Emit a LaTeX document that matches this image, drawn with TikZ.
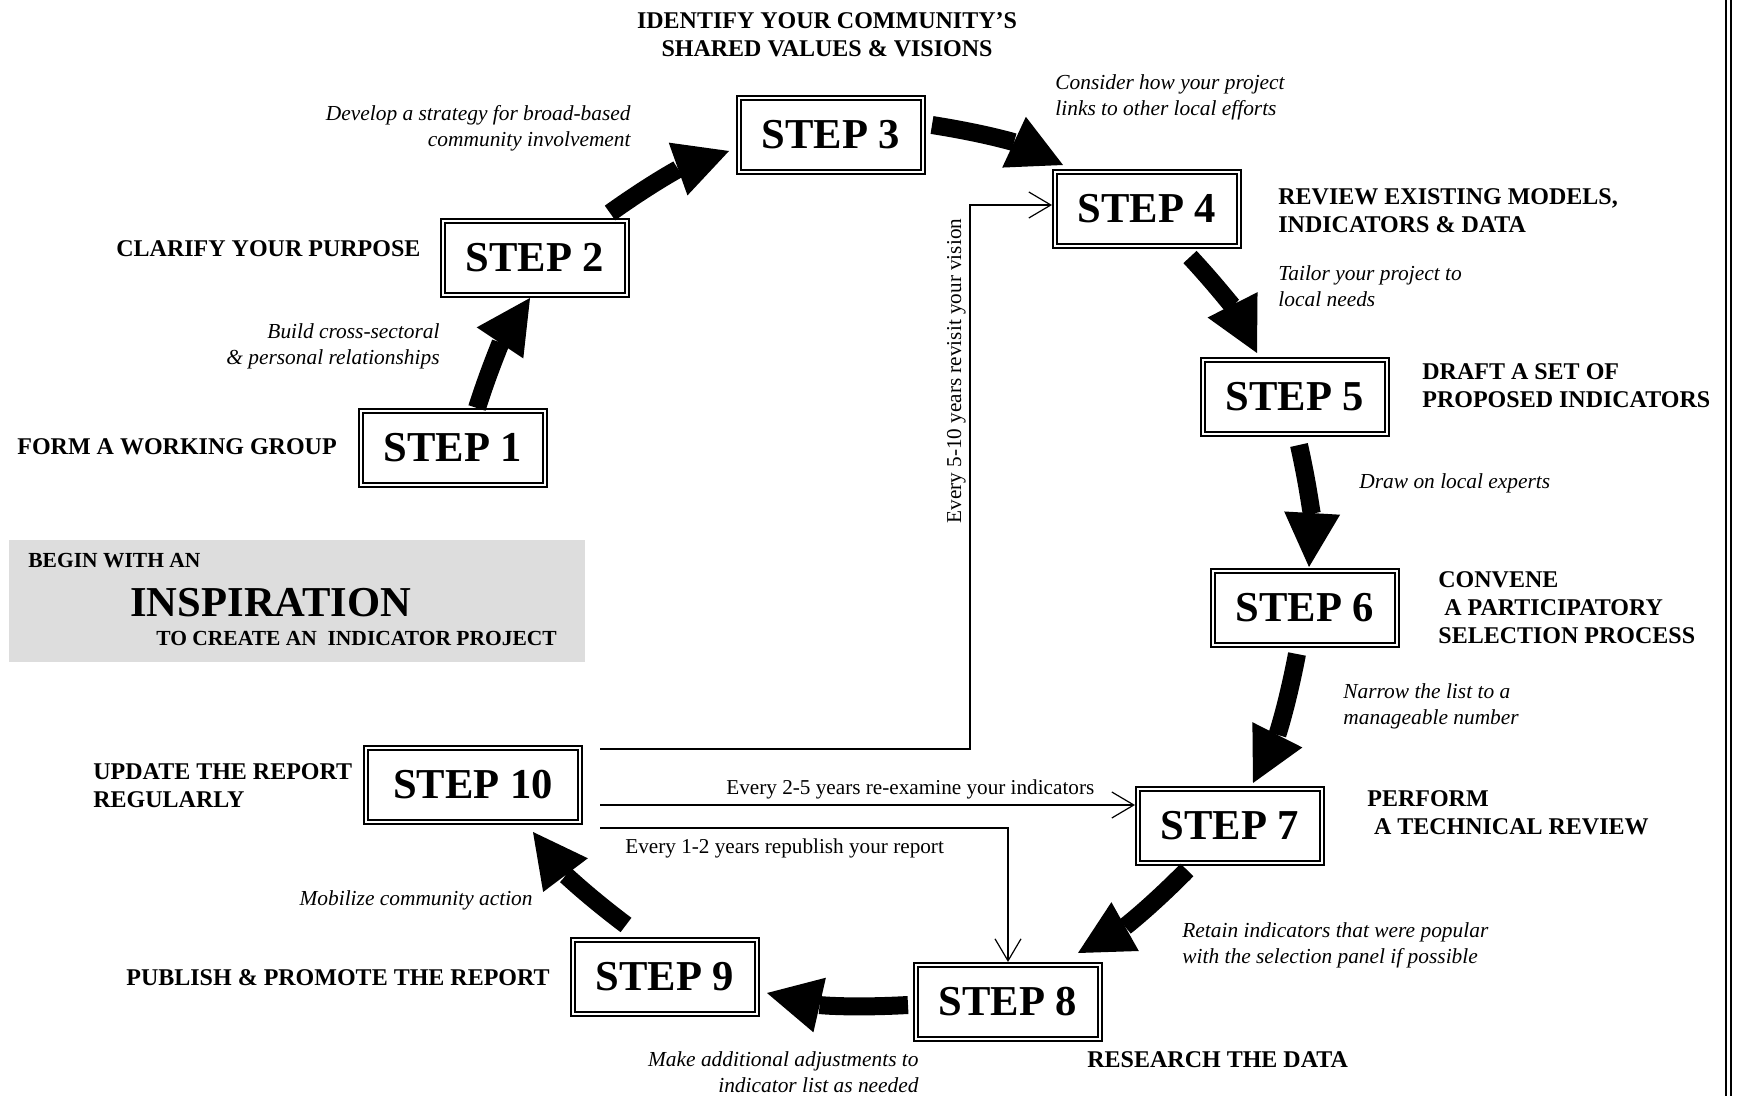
\documentclass[tikz,border=0pt]{standalone}
\usepackage{fontspec}
\setmainfont{Liberation Serif}
\usetikzlibrary{arrows.meta,calc}

% strut that fixes the top of a multi-line label one em above its first baseline
\newcommand\firstline{\rule{0pt}{1em}}

\definecolor{inspgray}{RGB}{221,221,221}

\tikzset{
  stepbox/.style={draw, line width=1pt, double, double distance=1pt,
    minimum width=92pt, minimum height=37pt, inner sep=0pt, outer sep=1.5pt,
    font=\bfseries\fontsize{21.3}{24}\selectfont},
  headline/.style={inner sep=0pt, font=\bfseries\fontsize{12}{14}\selectfont},
  hint/.style={inner sep=0pt, font=\itshape\fontsize{10.7}{12.85}\selectfont},
  cyclenote/.style={inner sep=0pt, font=\fontsize{10.6}{12.5}\selectfont},
  bigarrow/.style={line width=9pt,
    -{Triangle[length=27pt,width=28pt,line width=0pt]}},
  revisit/.style={line width=0.6pt,
    -{Straight Barb[length=11pt,width=13pt]}},
}

\begin{document}
\begin{tikzpicture}[x=0.5pt,y=-0.5pt]
\useasboundingbox (0,0) rectangle (1737,1096);

% double rule along the right edge
\draw[line width=1pt] (1726.3,0) -- (1726.3,1096);
\draw[line width=1pt] (1730.6,0) -- (1730.6,1096);

% starting point
\fill[inspgray] (9,540) rectangle (585,662);
\node[headline, font=\bfseries\fontsize{10.75}{12}\selectfont, anchor=base west] (begin) at (28,568) {BEGIN WITH AN};
\node[inner sep=0pt, font=\bfseries\fontsize{21.3}{24}\selectfont, anchor=base west] (insp) at (130,617) {INSPIRATION};
\node[headline, font=\bfseries\fontsize{10.75}{12}\selectfont, anchor=base west] (create) at (156,646) {TO CREATE AN\ \ INDICATOR PROJECT};

% the ten steps
\node[stepbox] (s1) at (453,448) {STEP 1};
\node[stepbox] (s2) at (535,258) {STEP 2};
\node[stepbox] (s3) at (831,135) {STEP 3};
\node[stepbox] (s4) at (1147,209) {STEP 4};
\node[stepbox] (s5) at (1295,397) {STEP 5};
\node[stepbox] (s6) at (1305,608) {STEP 6};
\node[stepbox] (s7) at (1230,826) {STEP 7};
\node[stepbox] (s8) at (1008,1002) {STEP 8};
\node[stepbox] (s9) at (665,977) {STEP 9};
\node[stepbox, minimum width=107pt] (s10) at (473,785) {STEP 10};

% step titles
\node[headline, anchor=north, align=center] (t3) at (827,4)
  {\firstline IDENTIFY YOUR COMMUNITY’S\\SHARED VALUES \& VISIONS};
\node[headline, anchor=base west] (t2) at (116,257) {CLARIFY YOUR PURPOSE};
\node[headline, anchor=base west] (t1) at (17,455) {FORM A WORKING GROUP};
\node[headline, anchor=north west, align=left] (t4) at (1278,180)
  {\firstline REVIEW EXISTING MODELS,\\INDICATORS \& DATA};
\node[headline, anchor=north west, align=left] (t5) at (1422,355)
  {\firstline DRAFT A SET OF\\PROPOSED INDICATORS};
\node[headline, anchor=north west, align=left] (t6) at (1438,563)
  {\firstline CONVENE\\\hspace*{3pt}A PARTICIPATORY\\SELECTION PROCESS};
\node[headline, anchor=north west, align=left] (t7) at (1367,782)
  {\firstline PERFORM\\\hspace*{3.3pt}A TECHNICAL REVIEW};
\node[headline, anchor=base west] (t8) at (1087,1067) {RESEARCH THE DATA};
\node[headline, anchor=base west] (t9) at (126,985) {PUBLISH \& PROMOTE THE REPORT};
\node[headline, anchor=north west, align=left] (t10) at (93,755)
  {\firstline UPDATE THE REPORT\\REGULARLY};

% hints along the cycle
\node[hint, anchor=north east, align=right] (h23) at (631,99)
  {\firstline Develop a strategy for broad-based\\community involvement};
\node[hint, anchor=north east, align=right] (h12) at (440,317)
  {\firstline Build cross-sectoral\\\& personal relationships};
\node[hint, anchor=north west, align=left] (h34) at (1055,68)
  {\firstline Consider how your project\\links to other local efforts};
\node[hint, anchor=north west, align=left] (h45) at (1278,259)
  {\firstline Tailor your project to\\local needs};
\node[hint, anchor=base west] (h56) at (1359,489) {Draw on local experts};
\node[hint, anchor=north west, align=left] (h67) at (1343,677)
  {\firstline Narrow the list to a\\manageable number};
\node[hint, anchor=north west, align=left] (h78) at (1182,916)
  {\firstline Retain indicators that were popular\\with the selection panel if possible};
\node[hint, anchor=north east, align=right] (h89) at (919,1045)
  {\firstline Make additional adjustments to\\indicator list as needed};
\node[hint, anchor=base east] (h910) at (533,905) {Mobilize community action};

% main cycle
\draw[bigarrow] ($(s1.north)+(24,0)$) to[bend left=8] ($(s2.south)+(-5,0)$);
\draw[bigarrow] ($(s2.north east)+(-20,-5)$) to[bend left=8] ($(s3.west)+(-7,16)$);
\draw[bigarrow] ($(s3.east)+(6,-10)$) to[bend left=8] ($(s4.north west)+(11,-4)$);
\draw[bigarrow] ($(s4.south)+(43,8)$) to[bend left=8] ($(s5.north)+(-38,-4)$);
\draw[bigarrow] ($(s5.south)+(4,8)$) to[bend left=8] ($(s6.north)+(4,-1)$);
\draw[bigarrow] ($(s6.south)+(-8,6)$) to[bend left=8] ($(s7.north)+(23,-3)$);
\draw[bigarrow] ($(s7.south)+(-43,4)$) to[bend left=8] ($(s8.north east)+(-25,-9)$);
\draw[bigarrow] ($(s8.west)+(-5,3)$) to[bend left=8] ($(s9.east)+(7,16)$);
\draw[bigarrow] ($(s9.north)+(-39,-12)$) to[bend left=8] ($(s10.south)+(60,7)$);

% return loops from step 10
\coordinate (v5) at (970,205);
\draw[revisit] ($(s10.east)+(17,-36)$) -| (v5) -- (v5 -| s4.west);
\node[cyclenote, rotate=90, anchor=base] (n5) at (961,371) {Every 5-10 years revisit your vision};

\draw[revisit] ($(s10.east)+(17,20)$) coordinate (m2) -- (m2 -| s7.west);
\node[cyclenote, anchor=base west] (n2) at (726,794) {Every 2-5 years re-examine your indicators};

\draw[revisit] ($(s10.east)+(17,43)$) -| (s8.north);
\node[cyclenote, anchor=base west] (n1) at (625,853) {Every 1-2 years republish your report};
\end{tikzpicture}
\end{document}
